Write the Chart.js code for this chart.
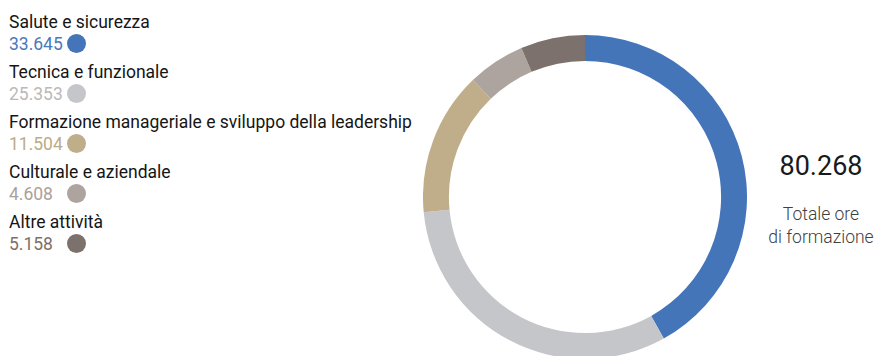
<!DOCTYPE html>
<html>
<head>
<meta charset="utf-8">
<script src="https://cdn.jsdelivr.net/npm/chart.js@4"></script>
<style>
  html, body { margin: 0; padding: 0; background: #fff; }
  body { width: 880px; height: 356px; overflow: hidden; position: relative; font-family: Roboto, sans-serif; }
  #legend { position: absolute; left: 9px; top: 11px; }
  .item { margin-bottom: 6px; }
  .lbl { font-size: 17.5px; line-height: 22px; color: #151515; white-space: nowrap; }
  .val { font-size: 17.5px; line-height: 22px; position: relative; height: 22px; }
  .dot { position: absolute; left: 58px; top: 1px; width: 19px; height: 19px; border-radius: 50%; }
  #wrap { position: absolute; left: 423px; top: 35px; width: 324px; height: 324px; }
  #total { position: absolute; left: 760px; width: 122px; top: 150px; text-align: center; font-size: 27px; color: #1a1a1a; }
  #caption { position: absolute; left: 758px; width: 126px; top: 203px; text-align: center; font-size: 17.5px; line-height: 23px; font-weight: 300; color: #404040; }
</style>
</head>
<body>
<div id="legend"></div>
<div id="wrap"><canvas id="donut" width="324" height="324"></canvas></div>
<div id="total"></div>
<div id="caption">Totale ore<br>di formazione</div>
<script>
document.addEventListener('DOMContentLoaded', function() {
    const categories = [
        "Salute e sicurezza",
        "Tecnica e funzionale",
        "Formazione manageriale e sviluppo della leadership",
        "Culturale e aziendale",
        "Altre attività"
    ];
    const hours = [33645, 25353, 11504, 4608, 5158];
    const textColors = ['#4a78bd', '#b9b9b9', '#bcab88', '#aaa19c', '#7c706b'];
    const sliceColors = ['#4575b9', '#c5c6ca', '#c0ae8b', '#ada49f', '#7d716d'];

    const fmt = n => n.toLocaleString('de-DE');

    // legend on the left
    const legend = document.getElementById('legend');
    categories.forEach((c, i) => {
        const item = document.createElement('div');
        item.className = 'item';
        item.innerHTML = '<div class="lbl">' + c + '</div>' +
            '<div class="val" style="color:' + textColors[i] + '">' + fmt(hours[i]) +
            '<span class="dot" style="background:' + sliceColors[i] + '"></span></div>';
        legend.appendChild(item);
    });

    const total = hours.reduce((a, b) => a + b, 0);
    document.getElementById('total').textContent = fmt(total);

    const ctx = document.getElementById('donut').getContext('2d');
    new Chart(ctx, {
        type: 'doughnut',
        data: {
            labels: categories,
            datasets: [{
                data: hours,
                backgroundColor: sliceColors,
                borderWidth: 0
            }]
        },
        options: {
            responsive: false,
            animation: false,
            cutout: '84%',
            plugins: {
                legend: { display: false },
                tooltip: { enabled: false }
            }
        }
    });
});
</script>
</body>
</html>
